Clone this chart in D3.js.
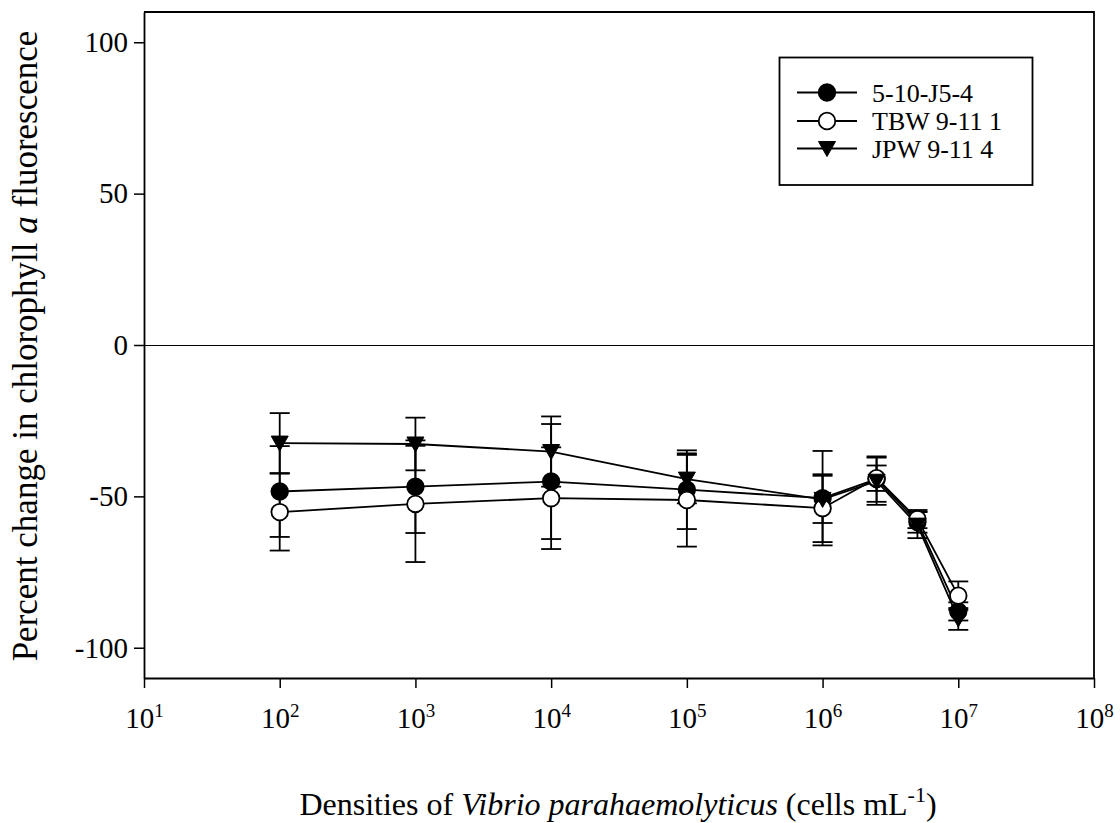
<!DOCTYPE html>
<html>
<head>
<meta charset="utf-8">
<script src="https://cdn.jsdelivr.net/npm/d3@7/dist/d3.min.js"></script>
<style>
  html, body { margin: 0; padding: 0; background: #fff; }
  svg { display: block; }
  text { font-family: "Liberation Serif", "Times New Roman", serif; fill: #000; }
</style>
</head>
<body>
<svg id="chart" width="1120" height="823"></svg>
<script>
// Cell densities (cells per mL) at which chlorophyll a change was measured
const densities = [1e2, 1e3, 1e4, 1e5, 1e6, 2.5e6, 5e6, 1e7];

// Mean percent change and standard error for each strain
const strainA = [-48.4, -46.8, -45.1, -47.8, -50.6, -44.3, -58.5, -88.0];
const strainAErr = [15.0, 15.3, 19.0, 13.0, 15.6, 7.5, 3.5, 3.0];

const strainB = [-55.2, -52.5, -50.6, -51.2, -53.9, -44.0, -57.5, -82.8];
const strainBErr = [12.7, 19.2, 16.8, 15.4, 11.2, 4.2, 3.0, 4.7];

const strainC = [-32.4, -32.7, -35.2, -44.3, -51.0, -45.0, -59.5, -90.5];
const strainCErr = [9.9, 8.7, 11.6, 8.0, 7.8, 7.8, 4.3, 3.6];

const seriesNames = ["5-10-J5-4", "TBW 9-11 1", "JPW 9-11 4"];
const yTicks = [-100, -50, 0, 50, 100];
const yTickLabels = ["-100", "-50", "0", "50", "100"];
const xTickExponents = [1, 2, 3, 4, 5, 6, 7, 8];

const svg = d3.select("#chart");
const plotLeft = 144, plotRight = 1094, plotTop = 12, plotBottom = 678;

const x = d3.scaleLog().domain([10, 1e8]).range([plotLeft, plotRight]);
const y = d3.scaleLinear().domain([-110, 110]).range([plotBottom, plotTop]);

const series = [
  { name: seriesNames[0], values: strainA, errs: strainAErr, symbol: "filled" },
  { name: seriesNames[1], values: strainB, errs: strainBErr, symbol: "open" },
  { name: seriesNames[2], values: strainC, errs: strainCErr, symbol: "triangle" }
];

// Zero reference line
svg.append("line")
  .attr("x1", plotLeft).attr("x2", plotRight)
  .attr("y1", y(0) + 0.5).attr("y2", y(0) + 0.5)
  .attr("stroke", "#000").attr("stroke-width", 1)
  .attr("shape-rendering", "crispEdges");

// Frame (top and right edges)
svg.append("path")
  .attr("d", `M${plotLeft},${plotTop}H${plotRight}V${plotBottom}`)
  .attr("fill", "none").attr("stroke", "#000").attr("stroke-width", 1.8);

// Y axis
const yAxis = svg.append("g")
  .attr("transform", `translate(${plotLeft},0)`)
  .call(d3.axisLeft(y).tickValues(yTicks).tickSize(10).tickSizeOuter(0).tickPadding(6)
    .tickFormat((d, i) => yTickLabels[i]));
yAxis.select(".domain").attr("stroke-width", 1.8);
yAxis.selectAll(".tick line").attr("stroke-width", 1.5);
yAxis.selectAll(".tick text")
  .style("font-family", "'Liberation Serif', serif")
  .style("font-size", "29px");

// X axis with power-of-ten labels
const xAxis = svg.append("g")
  .attr("transform", `translate(0,${plotBottom})`)
  .call(d3.axisBottom(x).tickValues(xTickExponents.map(e => Math.pow(10, e)))
    .tickSize(10).tickSizeOuter(0).tickFormat(() => ""));
xAxis.select(".domain").attr("stroke-width", 1.8);
xAxis.selectAll(".tick line").attr("stroke-width", 1.5);
xAxis.selectAll(".tick text").each(function (d) {
  const t = d3.select(this)
    .attr("y", 50)
    .attr("dy", null)
    .style("font-family", "'Liberation Serif', serif")
    .style("font-size", "29px");
  t.append("tspan").text("10");
  t.append("tspan")
    .attr("dy", -11)
    .style("font-size", "19px")
    .text(Math.round(Math.log10(d)));
});

// Axis titles
svg.append("text")
  .attr("transform", `translate(37,${(plotTop + plotBottom) / 2 + 1}) rotate(-90)`)
  .attr("text-anchor", "middle")
  .style("font-family", "'Liberation Serif', serif")
  .style("font-size", "35px")
  .html('Percent change in chlorophyll <tspan font-style="italic">a</tspan> fluorescence');

const xt = svg.append("text")
  .attr("x", 618).attr("y", 815)
  .attr("text-anchor", "middle")
  .style("font-family", "'Liberation Serif', serif")
  .style("font-size", "32px");
xt.append("tspan").text("Densities of ");
xt.append("tspan").attr("font-style", "italic").text("Vibrio parahaemolyticus");
xt.append("tspan").text(" (cells mL");
xt.append("tspan").attr("dy", -13).style("font-size", "22px").text("-1");
xt.append("tspan").attr("dy", 13).text(")");

// Marker drawing helper
const triPath = "M-8.5,-7L8.5,-7L0,8Z";
function drawMarker(g, kind, cx, cy) {
  if (kind === "triangle") {
    g.append("path").attr("d", triPath)
      .attr("transform", `translate(${cx},${cy})`)
      .attr("fill", "#000").attr("stroke", "#000").attr("stroke-width", 1);
  } else {
    g.append("circle").attr("cx", cx).attr("cy", cy).attr("r", 8.3)
      .attr("fill", kind === "filled" ? "#000" : "#fff")
      .attr("stroke", "#000").attr("stroke-width", 1.8);
  }
}

const line = d3.line().x(d => x(d[0])).y(d => y(d[1]));
const plot = svg.append("g");

series.forEach(s => {
  const pts = densities.map((d, i) => [d, s.values[i], s.errs[i]]);
  plot.append("path")
    .datum(pts)
    .attr("d", line)
    .attr("fill", "none").attr("stroke", "#000").attr("stroke-width", 1.8);

  // Error bars with caps
  const eb = plot.append("g").attr("stroke", "#000").attr("stroke-width", 1.8);
  pts.forEach(p => {
    const cx = x(p[0]);
    const yt = y(p[1] + p[2]), yb = y(p[1] - p[2]);
    eb.append("line").attr("x1", cx).attr("x2", cx).attr("y1", yt).attr("y2", yb);
    eb.append("line").attr("x1", cx - 10).attr("x2", cx + 10).attr("y1", yt).attr("y2", yt);
    eb.append("line").attr("x1", cx - 10).attr("x2", cx + 10).attr("y1", yb).attr("y2", yb);
  });
});

series.forEach(s => {
  const g = plot.append("g");
  densities.forEach((d, i) => drawMarker(g, s.symbol, x(d), y(s.values[i])));
});

// Legend
const legend = svg.append("g");
legend.append("rect")
  .attr("x", 779.5).attr("y", 57.5).attr("width", 253).attr("height", 127.5)
  .attr("fill", "#fff").attr("stroke", "#000").attr("stroke-width", 1.8);
const rowsY = [92.5, 121, 148.5];
series.forEach((s, i) => {
  const ry = rowsY[i];
  legend.append("line")
    .attr("x1", 797).attr("x2", 857).attr("y1", ry).attr("y2", ry)
    .attr("stroke", "#000").attr("stroke-width", 1.8);
  drawMarker(legend, s.symbol, 827, ry);
  legend.append("text")
    .attr("x", 872).attr("y", ry + 9)
    .style("font-family", "'Liberation Serif', serif")
    .style("font-size", "26px")
    .text(s.name);
});
</script>
</body>
</html>
